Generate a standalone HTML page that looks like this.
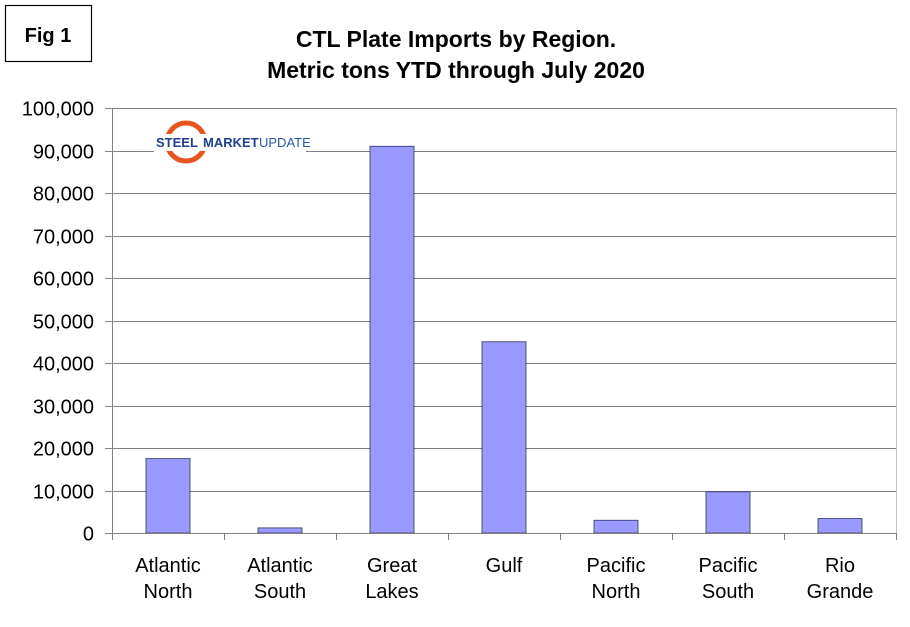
<!DOCTYPE html>
<html><head><meta charset="utf-8"><style>
body{margin:0;background:#fff;}
svg text{font-family:"Liberation Sans",Arial,sans-serif;}
</style></head><body>
<svg width="910" height="622" viewBox="0 0 910 622" xmlns="http://www.w3.org/2000/svg">
<rect x="0" y="0" width="910" height="622" fill="#fff"/>
<g>
<rect x="5.5" y="5.5" width="86" height="56" fill="#fff" stroke="#000" stroke-width="1.2"/>
<text x="48" y="42" font-size="20" font-weight="bold" text-anchor="middle">Fig 1</text>
</g>
<text x="456" y="47" font-size="23" font-weight="bold" text-anchor="middle">CTL Plate Imports by Region.</text>
<text x="456" y="78" font-size="23" font-weight="bold" text-anchor="middle">Metric tons YTD through July 2020</text>
<g id="grid"></g>
<g id="bars"></g>
<g id="axes"></g>
<g>
<rect x="154" y="120" width="152" height="45" fill="#fff"/>
<circle cx="186" cy="142" r="19" fill="none" stroke="#e8541e" stroke-width="5"/>
<rect x="154" y="134" width="152" height="17" fill="#fff"/>
<text x="156" y="147" font-size="13" font-weight="bold" fill="#1f3f8f">STEEL</text>
<text x="203" y="147" font-size="13" font-weight="bold" fill="#1f3f8f">MARKET</text>
<text x="259" y="147" font-size="13" fill="#2c56a8">UPDATE</text>
</g>
</svg>
<script>
const categories=[["Atlantic","North"],["Atlantic","South"],["Great","Lakes"],["Gulf"],["Pacific","North"],["Pacific","South"],["Rio","Grande"]];
const values=[17500,1200,91000,45000,3000,9700,3400];
const yTicks=[0,10000,20000,30000,40000,50000,60000,70000,80000,90000,100000];
const yMax=100000;
const X0=112,X1=896,Y0=533,Y1=108;
const NS="http://www.w3.org/2000/svg";
const bw=(X1-X0)/categories.length;
function y(v){return Y0-(v/yMax)*(Y0-Y1);}
function xc(i){return X0+bw*(i+0.5);}
function mk(tag,attrs,parent){const e=document.createElementNS(NS,tag);for(const k in attrs)e.setAttribute(k,attrs[k]);parent.appendChild(e);return e;}
const grid=document.getElementById('grid'),bars=document.getElementById('bars'),axes=document.getElementById('axes');
yTicks.forEach(t=>{
 const yy=Math.round(y(t))+0.5;
 if(t>0){const g=mk('line',{x1:X0,x2:X1,y1:yy,y2:yy,stroke:'#808080','stroke-width':1},grid);
 
 }
 const tk=mk('line',{x1:X0-7,x2:X0,y1:yy,y2:yy,stroke:'#808080'},axes);
 
 
 const lb=mk('text',{x:X0-18,y:yy+7,'font-size':20,'text-anchor':'end'},axes);
 lb.textContent=t.toLocaleString('en-US');
 
 
});
mk('line',{x1:X1+0.5,x2:X1+0.5,y1:Y1,y2:Y0,stroke:'#c0c0c0'},grid);
values.forEach((v,i)=>{
 const r=mk('rect',{x:xc(i)-22,y:y(v),width:44,height:Y0-y(v),fill:'#9999ff',stroke:'#333366','stroke-width':0.8},bars);
 
 
});
mk('line',{x1:X0+0.5,x2:X0+0.5,y1:Y1,y2:Y0,stroke:'#808080'},axes);
mk('line',{x1:X0,x2:X1,y1:Y0+0.5,y2:Y0+0.5,stroke:'#808080'},axes);
for(let i=0;i<=categories.length;i++){
 const xx=Math.round(X0+bw*i)+0.5;
 mk('line',{x1:xx,x2:xx,y1:Y0,y2:Y0+7,stroke:'#808080'},axes);
}
categories.forEach((c,i)=>{
 c.forEach((s,j)=>{
  const t=mk('text',{x:xc(i),y:572+j*26,'font-size':20,'text-anchor':'middle'},axes);
  t.textContent=s;
  
  
 });
});
</script>
</body></html>
